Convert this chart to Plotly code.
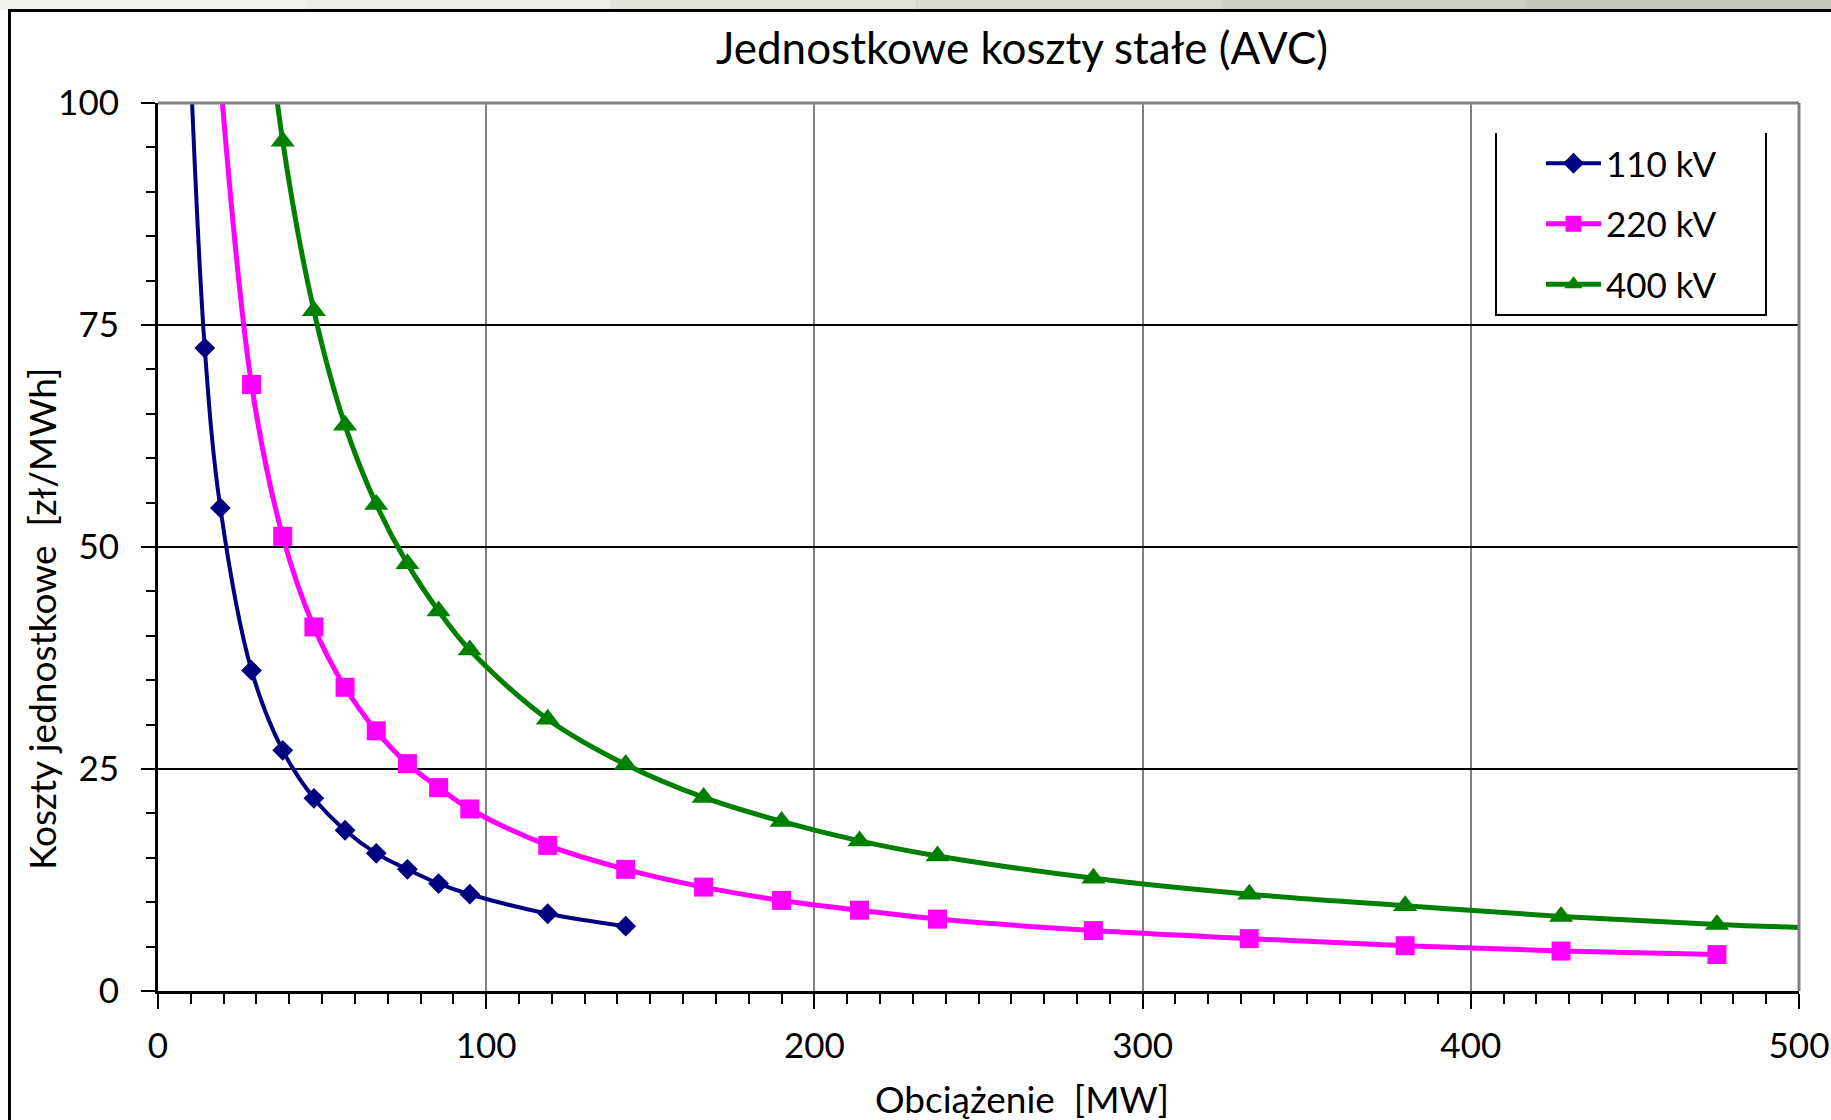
import plotly.graph_objects as go

# ---- data ----
x_110 = [9.5, 14.25, 19, 28.5, 38, 47.5, 57, 66.5, 76, 85.5, 95, 118.75, 142.5]
y_110 = [108.0, 72.4, 54.4, 36.1, 27.1, 21.7, 18.1, 15.5, 13.7, 12.1, 10.9, 8.7, 7.3]

x_220 = [19, 28.5, 38, 47.5, 57, 66.5, 76, 85.5, 95, 118.75, 142.5, 166.25, 190,
         213.75, 237.5, 285, 332.5, 380, 427.5, 475]
y_220 = [102.8, 68.3, 51.2, 41.0, 34.2, 29.3, 25.6, 22.9, 20.5, 16.4, 13.7, 11.7, 10.2,
         9.1, 8.1, 6.8, 5.9, 5.1, 4.5, 4.1]

x_400 = [28.5, 38, 47.5, 57, 66.5, 76, 85.5, 95, 118.75, 142.5, 166.25, 190, 213.75,
         237.5, 285, 332.5, 380, 427.5, 475, 522.5]
y_400 = [126.0, 95.7, 76.6, 63.7, 54.8, 48.1, 42.8, 38.4, 30.6, 25.5, 21.8, 19.1, 16.9,
         15.2, 12.7, 10.9, 9.6, 8.4, 7.5, 6.9]

series_names = ["110 kV", "220 kV", "400 kV"]
title_text = "Jednostkowe koszty stałe (AVC)"
x_title = "Obciążenie \u00a0[MW]"
y_title = "Koszty jednostkowe \u00a0[zł/MWh]"
x_ticks = [0, 100, 200, 300, 400, 500]
y_ticks = [0, 25, 50, 75, 100]

FONT = "Lato, 'Open Sans', sans-serif"

W, H = 1831, 1120
L, R, T, B = 158, 1799, 103, 991   # plot area in pixels

def px_x(p):
    return (p - L) / (R - L)

def px_y(p):
    return (B - p) / (B - T)

fig = go.Figure()

styles = [
    dict(color="#000080", symbol="diamond", size=16, width=4),
    dict(color="#FF00FF", symbol="square", size=19, width=5),
    dict(color="#008000", symbol="triangle-up", size=21, width=5),
]
for name, xs, ys, st in zip(series_names, [x_110, x_220, x_400], [y_110, y_220, y_400], styles):
    fig.add_trace(go.Scatter(
        x=xs, y=ys, name=name, mode="lines+markers", legendgroup=name,
        line=dict(color=st["color"], width=st["width"], shape="spline", smoothing=1),
        marker=dict(color=st["color"], symbol=st["symbol"], size=st["size"]),
    ))

shapes = []
# slide background strip above the frame
strip_cols = ["#F2F2F0", "#ECECE8", "#E2E3DC", "#D8D9D0", "#CED0C4", "#C6C8BA"]
n = len(strip_cols)
for i, c in enumerate(strip_cols):
    shapes.append(dict(type="rect", xref="paper", yref="paper",
                       x0=px_x(i * W / n), x1=px_x((i + 1) * W / n + 1),
                       y0=px_y(10), y1=px_y(-5), fillcolor=c, line=dict(width=0),
                       layer="below"))
# outer black frame
shapes.append(dict(type="rect", xref="paper", yref="paper",
                   x0=px_x(9.5), x1=px_x(W + 20), y0=px_y(10.5), y1=px_y(H + 20),
                   line=dict(color="black", width=3), fillcolor="rgba(0,0,0,0)"))
# gray plot-area border (top and right)
shapes.append(dict(type="line", xref="paper", yref="paper", x0=0, x1=1, y0=1, y1=1,
                   line=dict(color="#808080", width=3)))
shapes.append(dict(type="line", xref="paper", yref="paper", x0=1, x1=1, y0=0, y1=1,
                   line=dict(color="#808080", width=3)))
# legend box (left, bottom, right sides)
lb_l, lb_r, lb_t, lb_b = 1496, 1766, 133, 315
shapes.append(dict(type="rect", xref="paper", yref="paper",
                   x0=px_x(lb_l), x1=px_x(lb_r), y0=px_y(lb_b), y1=px_y(lb_t),
                   fillcolor="white", line=dict(width=0), layer="above"))
shapes.append(dict(type="path", xref="paper", yref="paper", layer="above",
                   path=f"M {px_x(lb_l)} {px_y(lb_t)} L {px_x(lb_l)} {px_y(lb_b)} "
                        f"L {px_x(lb_r)} {px_y(lb_b)} L {px_x(lb_r)} {px_y(lb_t)}",
                   line=dict(color="black", width=2)))

annotations = [
    dict(text=x_title, xref="paper", yref="paper", x=px_x(1022), y=px_y(1098),
         xanchor="center", yanchor="middle", showarrow=False,
         font=dict(size=37, family=FONT, color="black")),
    dict(text=y_title, xref="paper", yref="paper", x=px_x(41), y=px_y(619),
         xanchor="center", yanchor="middle", showarrow=False, textangle=-90,
         font=dict(size=37, family=FONT, color="black")),
]

fig.update_layout(
    width=W, height=H,
    margin=dict(l=L, r=W - R, t=T, b=H - B, autoexpand=False),
    paper_bgcolor="white", plot_bgcolor="white",
    font=dict(family=FONT, color="black", size=34),
    title=dict(text=title_text, x=px_x(1022), xref="paper", xanchor="center",
               y=1 - 49 / H, yref="container", yanchor="middle",
               font=dict(size=44, family=FONT, color="black")),
    showlegend=True,
    legend=dict(x=px_x(1541), y=px_y(134), xanchor="left", yanchor="top",
                bgcolor="rgba(0,0,0,0)", borderwidth=0,
                font=dict(size=35, family=FONT, color="black"),
                itemwidth=55, tracegroupgap=12),
    shapes=shapes,
    annotations=annotations,
)

fig.update_xaxes(
    range=[0, 500], tickvals=x_ticks, showline=True, linecolor="black", linewidth=3,
    automargin=False,
    ticks="outside", ticklen=15, tickwidth=2, tickcolor="black",
    showgrid=True, gridcolor="#808080", gridwidth=2, zeroline=False,
    tickfont=dict(size=35, family=FONT, color="black"), ticklabelstandoff=7,
    minor=dict(dtick=10, ticks="outside", ticklen=10, tickwidth=2, tickcolor="black",
               showgrid=False),
)
fig.update_yaxes(
    range=[0, 100], tickvals=y_ticks, showline=True, linecolor="black", linewidth=3,
    automargin=False,
    ticks="outside", ticklen=14, tickwidth=2, tickcolor="black",
    showgrid=True, gridcolor="black", gridwidth=2, zeroline=False,
    tickfont=dict(size=35, family=FONT, color="black"), ticklabelstandoff=15,
    minor=dict(dtick=5, ticks="outside", ticklen=9, tickwidth=2, tickcolor="black",
               showgrid=False),
)

fig.write_html("out.html")
